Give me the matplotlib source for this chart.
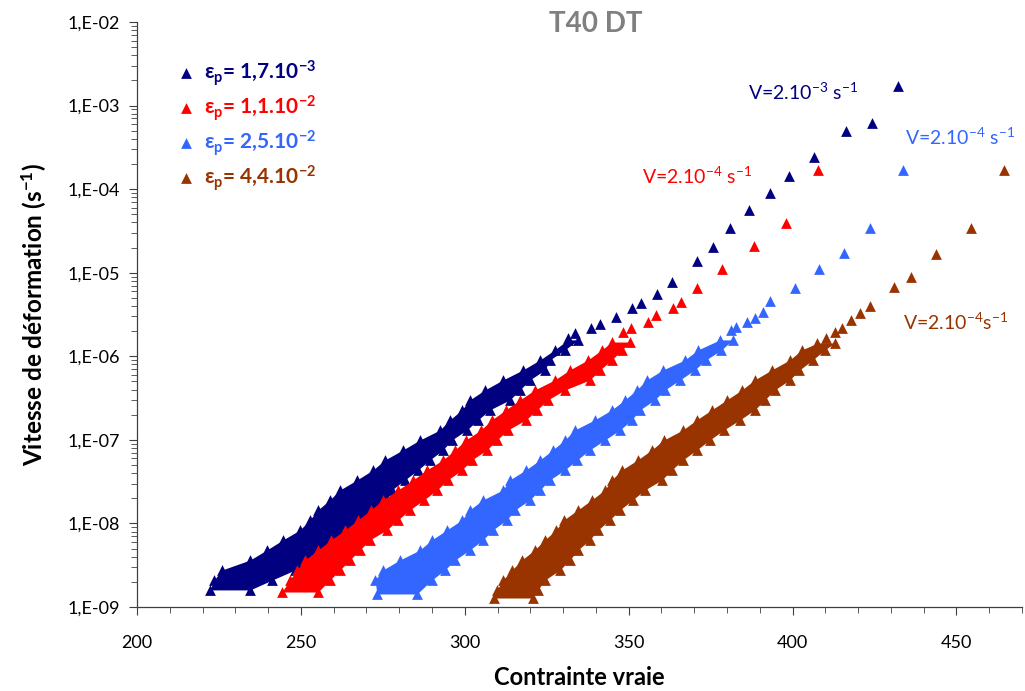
import numpy as np
import matplotlib
matplotlib.use("Agg")
import matplotlib.pyplot as plt
from matplotlib.ticker import FixedLocator, LogLocator, MultipleLocator, NullFormatter, FixedFormatter

plt.rcParams['font.family'] = ['Lato', 'DejaVu Sans']
plt.rcParams['mathtext.fontset'] = 'custom'
plt.rcParams['mathtext.rm'] = 'Lato'
plt.rcParams['mathtext.bf'] = 'Lato:bold'
plt.rcParams['mathtext.it'] = 'Lato:italic'

# ---- data ----
# dense part: for each strain rate, lowest and highest stress of the cloud
navy_rate = [1.60e-9, 2.10e-9, 2.77e-9, 3.65e-9, 4.81e-9, 6.34e-9, 8.34e-9, 1.10e-8, 1.45e-8,
             1.91e-8, 2.51e-8, 3.31e-8, 4.36e-8, 5.74e-8, 7.56e-8, 9.95e-8, 1.31e-7, 1.73e-7,
             2.28e-7, 3.00e-7, 3.95e-7, 5.20e-7, 6.85e-7, 9.02e-7, 1.19e-6, 1.57e-6]
navy_lo = [222.3, 223.5, 225.9, 234.5, 239.6, 244.5, 249.7, 252.7, 255.2, 258.8, 261.9, 267.1, 272.0,
           275.6, 281.1, 286.3, 292.4, 295.4, 299.1, 301.5, 306.1, 311.6, 317.7, 322.9, 327.4, 331.4]
navy_hi = [234.5, 241.2, 248.2, 253.7, 258.8, 262.8, 264.9, 271.0, 274.1, 276.2, 277.7, 281.7, 285.7,
           289.3, 293.3, 296.0, 300.6, 304.0, 307.6, 313.7, 316.8, 319.8, 324.4, 325.9, 330.5, 334.5]

red_rate = [1.51e-9, 2.10e-9, 2.77e-9, 3.65e-9, 4.81e-9, 6.34e-9, 8.34e-9, 1.10e-8, 1.45e-8,
            1.91e-8, 2.51e-8, 3.31e-8, 4.36e-8, 5.74e-8, 7.56e-8, 9.95e-8, 1.31e-7, 1.73e-7,
            2.28e-7, 3.00e-7, 3.95e-7, 5.20e-7, 6.85e-7, 9.02e-7, 1.19e-6, 1.48e-6]
red_lo = [244.2, 246.6, 248.8, 251.2, 255.2, 259.2, 263.4, 267.4, 271.3, 275.0, 279.6, 284.2, 288.4,
          293.3, 297.0, 300.3, 304.9, 308.2, 312.5, 316.8, 321.3, 327.4, 332.0, 337.5, 341.8, 344.8]
red_hi = [255.2, 258.8, 261.9, 264.9, 268.0, 271.0, 276.2, 279.6, 283.2, 287.5, 291.5, 294.8, 299.1,
          302.1, 306.7, 309.8, 313.1, 318.6, 322.0, 325.3, 330.5, 338.1, 341.2, 344.8, 347.9, 350.3]

blue_rate = [1.43e-9, 2.10e-9, 2.77e-9, 3.65e-9, 4.81e-9, 6.34e-9, 8.34e-9, 1.10e-8, 1.45e-8,
             1.91e-8, 2.51e-8, 3.31e-8, 4.36e-8, 5.74e-8, 7.56e-8, 9.95e-8, 1.31e-7, 1.73e-7,
             2.28e-7, 3.00e-7, 3.95e-7, 5.20e-7, 6.85e-7, 9.02e-7, 1.19e-6, 1.57e-6]
blue_lo = [273.2, 272.6, 275.0, 280.2, 286.3, 289.9, 294.5, 299.1, 301.5, 305.5, 311.6, 313.7, 318.6,
           322.9, 326.8, 330.5, 333.5, 339.6, 344.8, 348.8, 352.4, 355.5, 360.4, 367.1, 371.1, 377.8]
blue_hi = [285.4, 289.9, 293.9, 297.0, 301.5, 305.5, 308.5, 312.8, 315.3, 319.8, 322.9, 325.9, 330.5,
           334.2, 338.1, 342.7, 347.3, 350.9, 353.4, 357.9, 361.0, 365.6, 370.1, 373.5, 378.3, 381.7]

brown_rate = [1.28e-9, 1.60e-9, 2.10e-9, 2.77e-9, 3.65e-9, 4.81e-9, 6.34e-9, 8.34e-9, 1.10e-8,
              1.45e-8, 1.91e-8, 2.51e-8, 3.31e-8, 4.36e-8, 5.74e-8, 7.56e-8, 9.95e-8, 1.31e-7,
              1.73e-7, 2.28e-7, 3.00e-7, 3.95e-7, 5.20e-7, 6.85e-7, 9.02e-7, 1.19e-6, 1.44e-6]
brown_lo = [308.9, 309.8, 311.6, 314.4, 317.4, 321.3, 324.4, 327.8, 330.2, 334.5, 338.7, 342.7, 344.8,
            347.9, 352.7, 357.0, 360.7, 366.5, 370.7, 375.3, 379.9, 384.5, 388.4, 393.6, 399.1, 402.8, 407.6]
brown_hi = [320.7, 322.3, 324.4, 329.0, 332.0, 334.5, 338.1, 340.6, 344.2, 347.3, 351.2, 354.9, 360.1,
            363.1, 366.5, 370.7, 374.7, 379.0, 383.9, 388.4, 391.5, 394.5, 399.1, 402.1, 406.1, 409.8, 412.8]

# isolated points (upper part of each series)
navy_x = [331.5, 333.5, 338.4, 341.2, 346.0, 351.0, 353.7, 358.5, 363.3, 370.8, 375.7, 380.8, 386.6,
          393.0, 398.9, 406.5, 416.4, 424.3, 432.1]
navy_y = [1.67e-6, 1.91e-6, 2.2e-6, 2.41e-6, 2.92e-6, 3.75e-6, 4.3e-6, 5.6e-6, 7.8e-6, 1.39e-5, 2.05e-5,
          3.4e-5, 5.7e-5, 8.9e-5, 1.44e-4, 2.44e-4, 4.9e-4, 6.2e-4, 1.7e-3]
red_x = [348.3, 350.8, 355.9, 358.4, 363.5, 366.1, 370.8, 378.5, 388.2, 397.9, 407.7]
red_y = [1.97e-6, 2.16e-6, 2.59e-6, 3.12e-6, 3.81e-6, 4.43e-6, 6.5e-6, 1.11e-5, 2.09e-5, 3.9e-5, 1.7e-4]
blue_x = [381.3, 382.8, 386.2, 388.4, 391.0, 393.0, 400.6, 408.2, 415.7, 423.5, 433.6]
blue_y = [2.06e-6, 2.26e-6, 2.59e-6, 2.84e-6, 3.41e-6, 4.62e-6, 6.5e-6, 1.11e-5, 1.73e-5, 3.46e-5, 1.7e-4]
brown_x = [410.3, 412.8, 415.2, 417.9, 420.7, 423.5, 430.9, 436.2, 443.8, 454.3, 464.4]
brown_y = [1.66e-6, 1.97e-6, 2.16e-6, 2.72e-6, 3.32e-6, 4.0e-6, 6.8e-6, 8.8e-6, 1.66e-5, 3.46e-5, 1.7e-4]

legend_labels = ['ε$_{\\mathbf{p}}$= 1,7.10$^{\\mathbf{-3}}$', 'ε$_{\\mathbf{p}}$= 1,1.10$^{\\mathbf{-2}}$',
                 'ε$_{\\mathbf{p}}$= 2,5.10$^{\\mathbf{-2}}$', 'ε$_{\\mathbf{p}}$= 4,4.10$^{\\mathbf{-2}}$']
x_ticks = [200, 250, 300, 350, 400, 450]
y_ticks = [1e-9, 1e-8, 1e-7, 1e-6, 1e-5, 1e-4, 1e-3, 1e-2]
y_ticklabels = ['1,E-09', '1,E-08', '1,E-07', '1,E-06', '1,E-05', '1,E-04', '1,E-03', '1,E-02']

colors = ['#000080', '#FF0000', '#3366FF', '#993300']

fig = plt.figure(figsize=(10.25, 6.91), dpi=100)
ax = fig.add_axes([0.1337, 0.1216, 0.8634, 0.8466])

bands = [(navy_rate, navy_lo, navy_hi), (red_rate, red_lo, red_hi),
         (blue_rate, blue_lo, blue_hi), (brown_rate, brown_lo, brown_hi)]
points = [(navy_x, navy_y), (red_x, red_y), (blue_x, blue_y), (brown_x, brown_y)]
ms = 60
for (r, lo, hi), (px, py), c in zip(bands, points, colors):
    ax.fill_betweenx(r, lo, hi, color=c, lw=0)
    ax.scatter(lo, r, marker='^', s=ms, color=c, linewidths=0)
    ax.scatter(hi, r, marker='^', s=ms, color=c, linewidths=0)
    ax.scatter(px, py, marker='^', s=ms, color=c, linewidths=0)

ax.set_yscale('log')
ax.set_xlim(200, 470)
ax.set_ylim(1e-9, 1e-2)

ax.xaxis.set_major_locator(FixedLocator(x_ticks))
ax.xaxis.set_minor_locator(MultipleLocator(10))
ax.yaxis.set_major_locator(FixedLocator(y_ticks))
ax.yaxis.set_major_formatter(FixedFormatter(y_ticklabels))
ax.yaxis.set_minor_locator(LogLocator(base=10, subs=np.arange(2, 10)))
ax.yaxis.set_minor_formatter(NullFormatter())

for s in ['top', 'right']:
    ax.spines[s].set_visible(False)
for s in ['left', 'bottom']:
    ax.spines[s].set_color('#404040')
    ax.spines[s].set_linewidth(0.9)
ax.tick_params(axis='both', which='major', direction='out', length=6, color='#404040', labelsize=13)
ax.tick_params(axis='both', which='minor', direction='out', length=4, color='#404040')
ax.tick_params(axis='x', pad=14)
ax.tick_params(axis='y', pad=6)

ax.set_xlabel('Contrainte vraie', fontsize=17, fontweight='bold', labelpad=11)
ax.set_ylabel('Vitesse de déformation (s$^{\\mathbf{-1}}$)', fontsize=17.5, fontweight='bold', labelpad=14)
fig.text(0.581, 0.965, 'T40 DT', color='#808080', fontsize=20, fontweight='bold', ha='center', va='center')

# legend drawn by hand
for i, (lab, c) in enumerate(zip(legend_labels, colors)):
    yy = 0.913 - i * 0.0598
    ax.scatter([0.0554], [yy], marker='^', s=ms, color=c, linewidths=0, transform=ax.transAxes, clip_on=False)
    ax.text(0.076, yy, lab, color=c, fontsize=15, fontweight='bold', transform=ax.transAxes, va='center')

# speed annotations
ax.text(386.3, 1.45e-3, 'V=2.10$^{-3}$ s$^{-1}$', color=colors[0], fontsize=14, va='center')
ax.text(354.0, 1.44e-4, 'V=2.10$^{-4}$ s$^{-1}$', color=colors[1], fontsize=14, va='center')
ax.text(434.2, 4.2e-4, 'V=2.10$^{-4}$ s$^{-1}$', color=colors[2], fontsize=14, va='center')
ax.text(433.6, 2.57e-6, 'V=2.10$^{-4}$s$^{-1}$', color=colors[3], fontsize=14, va='center')

fig.savefig('out.png', dpi=100)
